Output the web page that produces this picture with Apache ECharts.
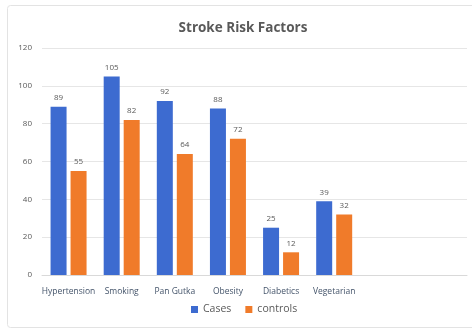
<!DOCTYPE html>
<html>
<head>
<meta charset="utf-8">
<script src="https://cdn.jsdelivr.net/npm/echarts@6/dist/echarts.min.js"></script>
<style>
  html, body { margin: 0; padding: 0; background: #ffffff; }
  #chart { width: 472px; height: 330px; }
</style>
</head>
<body>
<div id="chart"></div>
<script>
// Risk factor groups; the two trailing blank slots keep the spacing of the original sheet
const categories = ['Hypertension', 'Smoking', 'Pan Gutka', 'Obesity', 'Diabetics', 'Vegetarian', '', ''];
const casesValues = [89, 105, 92, 88, 25, 39];
const controlsValues = [55, 82, 64, 72, 12, 32];
const yTicks = [0, 20, 40, 60, 80, 100, 120];

const FONT = '"Open Sans", "Liberation Sans", sans-serif';
const chart = echarts.init(document.getElementById('chart'), null, { renderer: 'canvas' });

const labelStyle = {
  show: true,
  position: 'top',
  distance: 5,
  color: '#595959',
  fontSize: 8,
  fontFamily: FONT
};

chart.setOption({
  animation: false,
  backgroundColor: '#ffffff',
  title: {
    text: 'Stroke Risk Factors',
    left: 238,
    textAlign: 'center',
    top: 16,
    textStyle: { color: '#595959', fontSize: 13.5, fontWeight: 'bold', fontFamily: FONT }
  },
  graphic: [{
    type: 'rect',
    shape: { x: 7.5, y: 5.5, width: 480, height: 322, r: 3 },
    style: { fill: 'none', stroke: '#e3e3e3', lineWidth: 1 },
    z: -1
  }],
  legend: {
    bottom: 10,
    left: 186,
    itemWidth: 7,
    itemHeight: 7,
    itemGap: 14,
    icon: 'rect',
    textStyle: { color: '#595959', fontSize: 10.5, fontFamily: FONT },
    data: ['Cases', 'controls']
  },
  grid: { left: 42, right: 5, top: 48, bottom: 55 },
  xAxis: {
    type: 'category',
    data: categories,
    axisLine: { show: true, lineStyle: { color: '#d9d9d9' } },
    axisTick: { show: false },
    axisLabel: { color: '#44546a', fontSize: 8.5, fontFamily: FONT, margin: 12, interval: 0 }
  },
  yAxis: {
    type: 'value',
    min: yTicks[0],
    max: yTicks[yTicks.length - 1],
    interval: yTicks[1] - yTicks[0],
    axisLine: { show: false },
    axisTick: { show: false },
    axisLabel: { color: '#595959', fontSize: 8, fontFamily: FONT, margin: 10 },
    splitLine: { lineStyle: { color: '#e6e6e6' } }
  },
  series: [
    {
      name: 'Cases',
      type: 'bar',
      data: casesValues,
      barWidth: 16,
      barGap: '25%',
      itemStyle: { color: '#3d6bd0' },
      label: labelStyle
    },
    {
      name: 'controls',
      type: 'bar',
      data: controlsValues,
      barWidth: 16,
      itemStyle: { color: '#f07b2a' },
      label: labelStyle
    }
  ]
});
</script>
</body>
</html>
